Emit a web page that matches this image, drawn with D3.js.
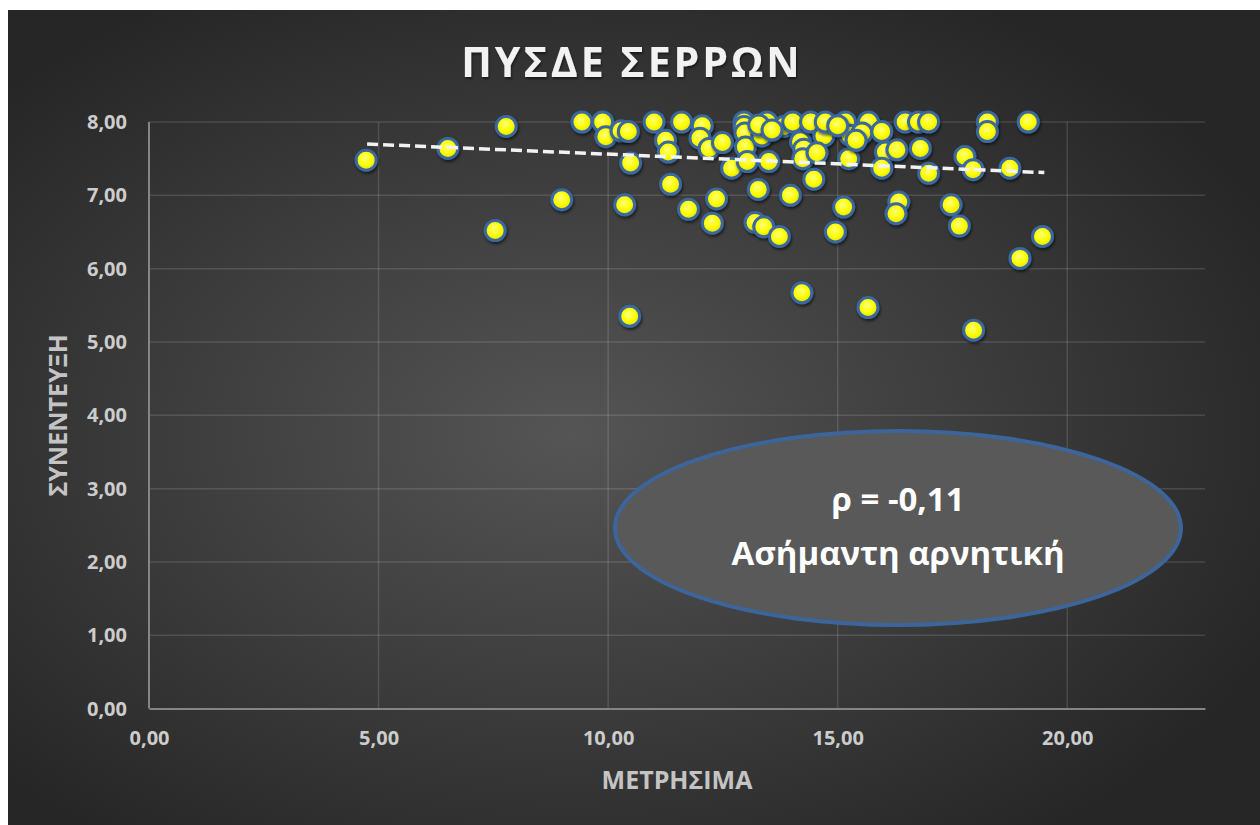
<!DOCTYPE html>
<meta charset="utf-8">
<head>
<style>
  body { margin: 0; background: #fff; }
  text { font-family: "Open Sans", sans-serif; }
</style>
</head>
<body>
<script src="https://cdnjs.cloudflare.com/ajax/libs/d3/7.8.5/d3.min.js"></script>
<script>

// values (x = ΜΕΤΡΗΣΙΜΑ, y = ΣΥΝΕΝΤΕΥΞΗ)
const metrisima = [
  4.73, 6.51, 7.54, 7.78, 8.99, 9.43, 9.88, 9.95, 10.28, 10.44,
  10.49, 10.36, 10.47, 11.00, 11.25, 11.31, 11.36, 11.60, 11.75, 12.05,
  12.00, 12.20, 12.49, 12.36, 12.27, 12.69, 12.96, 12.96, 12.98, 12.99,
  13.03, 13.27, 13.20, 13.39, 13.73, 13.46, 13.35, 13.50, 13.83, 14.02,
  14.19, 14.26, 14.24, 13.97, 14.41, 14.70, 14.48, 14.22, 14.73, 14.55,
  14.95, 15.17, 15.67, 15.27, 15.53, 15.96, 15.24, 16.04, 16.29, 15.96,
  16.47, 16.76, 16.98, 16.80, 16.98, 17.77, 17.95, 18.75, 18.26, 18.26,
  19.15, 15.13, 16.33, 16.27, 17.47, 17.65, 19.46, 18.97, 15.66, 17.96,
  13.28, 13.57, 15.00, 15.40
];
const synenteuxi = [
  7.48, 7.64, 6.52, 7.94, 6.94, 8.00, 8.00, 7.80, 7.88, 7.87,
  7.44, 6.87, 5.35, 8.00, 7.75, 7.59, 7.15, 8.00, 6.81, 7.95,
  7.78, 7.64, 7.72, 6.95, 6.62, 7.37, 8.00, 7.94, 7.85, 7.66,
  7.46, 7.08, 6.63, 6.57, 6.44, 8.00, 7.81, 7.46, 7.94, 8.00,
  7.73, 7.63, 7.50, 7.00, 8.00, 7.81, 7.22, 5.67, 8.00, 7.58,
  6.50, 8.00, 8.00, 7.82, 7.85, 7.87, 7.50, 7.59, 7.62, 7.37,
  8.00, 8.00, 8.00, 7.64, 7.30, 7.53, 7.35, 7.37, 8.00, 7.87,
  8.00, 6.84, 6.91, 6.75, 6.87, 6.58, 6.44, 6.14, 5.47, 5.16,
  7.96, 7.89, 7.95, 7.75
];

// linear trendline end points as drawn
const trendX = [4.75, 19.5];
const trendY = [7.70, 7.31];

const xTicks = [0, 5, 10, 15, 20];
const yTicks = [0, 1, 2, 3, 4, 5, 6, 7, 8];

const chartTitle = "ΠΥΣΔΕ ΣΕΡΡΩΝ";
const xTitle = "ΜΕΤΡΗΣΙΜΑ";
const yTitle = "ΣΥΝΕΝΤΕΥΞΗ";
const noteLines = ["ρ = -0,11", "Ασήμαντη αρνητική"];

const W = 1260, H = 825;
const plot = {left: 149, top: 122, right: 1205, bottom: 708.6};

const fmt = d => d3.format(".2f")(d).replace(".", ",");

const svg = d3.select("body").append("svg")
  .attr("width", W)
  .attr("height", H);

const defs = svg.append("defs");

const bg = defs.append("radialGradient")
  .attr("id", "bg")
  .attr("cx", "45%").attr("cy", "52%").attr("r", "62%");
bg.append("stop").attr("offset", "0%").attr("stop-color", "#555555");
bg.append("stop").attr("offset", "100%").attr("stop-color", "#262626");

const dot = defs.append("radialGradient")
  .attr("id", "dot")
  .attr("cx", "45%").attr("cy", "40%").attr("r", "60%");
dot.append("stop").attr("offset", "0%").attr("stop-color", "#ffff80");
dot.append("stop").attr("offset", "55%").attr("stop-color", "#ffff00");
dot.append("stop").attr("offset", "100%").attr("stop-color", "#e3e300");

const shadow = defs.append("filter")
  .attr("id", "shadow")
  .attr("x", "-50%").attr("y", "-50%").attr("width", "200%").attr("height", "200%");
shadow.append("feDropShadow")
  .attr("dx", 1).attr("dy", 2).attr("stdDeviation", 1.6)
  .attr("flood-color", "#000").attr("flood-opacity", 0.6);

const tshadow = defs.append("filter").attr("id", "tshadow");
tshadow.append("feDropShadow")
  .attr("dx", 1).attr("dy", 2).attr("stdDeviation", 1.2)
  .attr("flood-color", "#000").attr("flood-opacity", 0.5);

svg.append("rect")
  .attr("x", 8).attr("y", 10)
  .attr("width", W - 8).attr("height", H - 10)
  .attr("fill", "url(#bg)");

const x = d3.scaleLinear().domain([0, 23]).range([plot.left, plot.right]);
const y = d3.scaleLinear().domain([0, 8]).range([plot.bottom, plot.top]);

// gridlines
svg.append("g")
  .selectAll("line")
  .data(yTicks.filter(d => d > 0))
  .join("line")
    .attr("x1", plot.left).attr("x2", plot.right)
    .attr("y1", d => y(d)).attr("y2", d => y(d))
    .attr("stroke", "#ffffff").attr("stroke-opacity", 0.13).attr("stroke-width", 1.5);

svg.append("g")
  .selectAll("line")
  .data(xTicks.filter(d => d > 0))
  .join("line")
    .attr("x1", d => x(d)).attr("x2", d => x(d))
    .attr("y1", plot.top).attr("y2", plot.bottom)
    .attr("stroke", "#ffffff").attr("stroke-opacity", 0.13).attr("stroke-width", 1.5);

// axes
const xAxis = d3.axisBottom(x).tickValues(xTicks).tickFormat(fmt).tickSize(0).tickPadding(22);
const yAxis = d3.axisLeft(y).tickValues(yTicks).tickFormat(fmt).tickSize(0).tickPadding(22);

const gx = svg.append("g")
  .attr("transform", `translate(0,${plot.bottom})`)
  .call(xAxis);
const gy = svg.append("g")
  .attr("transform", `translate(${plot.left},0)`)
  .call(yAxis);

[gx, gy].forEach(g => {
  g.select(".domain").attr("stroke", "#858585").attr("stroke-width", 2);
  g.selectAll("text")
    .attr("fill", "#cccccc")
    .style("font-size", "20px")
    .style("font-weight", 700);
});
gy.select(".domain").attr("d", `M0,${plot.top}V${plot.bottom}`);

// axis titles
svg.append("text")
  .attr("x", (plot.left + plot.right) / 2)
  .attr("y", 789)
  .attr("text-anchor", "middle")
  .attr("fill", "#c4c4c4")
  .style("font-size", "25px").style("font-weight", 700)
  .text(xTitle);

svg.append("text")
  .attr("transform", `translate(67,${(plot.top + plot.bottom) / 2}) rotate(-90)`)
  .attr("text-anchor", "middle")
  .attr("fill", "#c4c4c4")
  .style("font-size", "25px").style("font-weight", 700)
  .text(yTitle);

// title
svg.append("text")
  .attr("x", 632)
  .attr("y", 77)
  .attr("text-anchor", "middle")
  .attr("fill", "#f2f2f2")
  .attr("filter", "url(#tshadow)")
  .style("font-size", "41px").style("font-weight", 700)
  .style("letter-spacing", "3px")
  .text(chartTitle);

// points
const pts = metrisima.map((v, i) => ({x: v, y: synenteuxi[i]}));
svg.append("g")
  .selectAll("circle")
  .data(pts)
  .join("circle")
    .attr("cx", d => x(d.x))
    .attr("cy", d => y(d.y))
    .attr("r", 10)
    .attr("fill", "url(#dot)")
    .attr("stroke", "#3a679f")
    .attr("stroke-width", 3)
    .attr("filter", "url(#shadow)");

// trendline
svg.append("path")
  .datum(trendX.map((v, i) => [v, trendY[i]]))
  .attr("d", d3.line().x(d => x(d[0])).y(d => y(d[1])))
  .attr("fill", "none")
  .attr("stroke", "#f2f2f2")
  .attr("stroke-width", 3.5)
  .attr("stroke-dasharray", "11,5");

// annotation bubble
svg.append("ellipse")
  .attr("cx", 898).attr("cy", 528)
  .attr("rx", 283).attr("ry", 97)
  .attr("fill", "#595959")
  .attr("stroke", "#3c659c")
  .attr("stroke-width", 4);

svg.append("g")
  .selectAll("text")
  .data(noteLines)
  .join("text")
    .attr("x", 898)
    .attr("y", (d, i) => 511 + i * 54)
    .attr("text-anchor", "middle")
    .attr("fill", "#ffffff")
    .style("font-size", "33px").style("font-weight", 700)
    .text(d => d);

</script>
</body>
